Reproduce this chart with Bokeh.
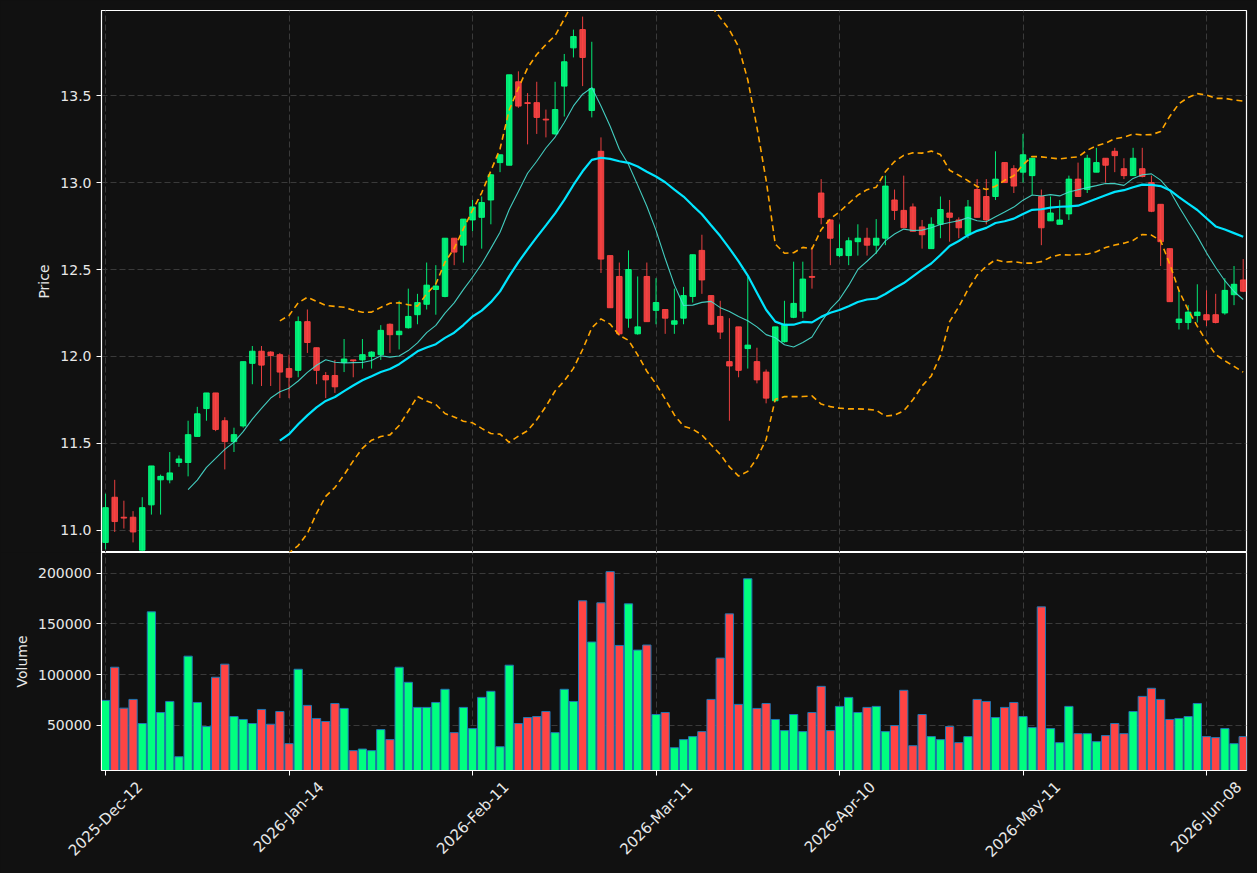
import math
import numpy as np
import pandas as pd
from bokeh.plotting import figure
from bokeh.layouts import column
from bokeh.models import (ColumnDataSource, FixedTicker, Range1d, BasicTickFormatter,
                          PrintfTickFormatter, LinearAxis)
from bokeh.embed import file_html
from bokeh.resources import INLINE

opens = [10.93, 11.19, 11.075, 11.075, 10.885, 11.146, 11.29, 11.29, 11.39, 11.39,
         11.54, 11.70, 11.79, 11.63, 11.51, 11.60, 11.96, 12.03, 12.025, 12.01,
         11.93, 11.92, 12.20, 12.05, 11.89, 11.89, 11.965, 11.98, 11.98, 12.0,
         12.01, 12.185, 12.125, 12.165, 12.24, 12.30, 12.385, 12.345, 12.68, 12.64,
         12.785, 12.80, 12.90, 13.115, 13.10, 13.58, 13.46, 13.46, 13.365, 13.28,
         13.555, 13.775, 13.88, 13.415, 13.18, 12.58, 12.46, 12.22, 12.13, 12.46,
         12.265, 12.27, 12.185, 12.22, 12.345, 12.61, 12.35, 12.23, 11.97, 12.17,
         12.045, 11.97, 11.91, 11.745, 12.085, 12.225, 12.26, 12.46, 12.94, 12.785,
         12.58, 12.58, 12.66, 12.68, 12.64, 12.68, 12.90, 12.84, 12.86, 12.745,
         12.62, 12.76, 12.825, 12.785, 12.70, 12.96, 12.92, 12.92, 13.115, 13.08,
         13.06, 13.04, 12.92, 12.78, 12.76, 12.82, 13.02, 12.96, 13.06, 13.14,
         13.18, 13.08, 13.04, 13.08, 13.0, 12.875, 12.62, 12.195, 12.195, 12.235,
         12.24, 12.24, 12.25, 12.355, 12.44]
highs = [11.21, 11.29, 11.17, 11.11, 11.19, 11.37, 11.32, 11.45, 11.43, 11.63,
         11.71, 11.79, 11.79, 11.65, 11.59, 11.97, 12.06, 12.06, 12.03, 12.02,
         12.01, 12.23, 12.27, 12.05, 11.91, 11.98, 12.10, 11.98, 12.10, 12.03,
         12.18, 12.19, 12.32, 12.39, 12.36, 12.54, 12.525, 12.68, 12.68, 12.79,
         12.90, 12.92, 13.05, 13.16, 13.62, 13.64, 13.515, 13.58, 13.42, 13.58,
         13.74, 13.88, 13.955, 13.81, 13.26, 12.58, 12.54, 12.61, 12.46, 12.54,
         12.45, 12.27, 12.39, 12.40, 12.585, 12.70, 12.35, 12.32, 12.22, 12.17,
         12.46, 12.05, 11.925, 12.17, 12.32, 12.545, 12.545, 12.63, 13.02, 12.785,
         12.76, 12.685, 12.76, 12.74, 12.79, 13.04, 12.96, 13.04, 12.88, 12.785,
         12.80, 12.92, 12.90, 12.80, 12.90, 13.02, 13.02, 13.18, 13.115, 13.10,
         13.28, 13.14, 12.96, 12.92, 12.90, 13.04, 13.115, 13.16, 13.20, 13.14,
         13.20, 13.14, 13.20, 13.20, 13.04, 12.875, 12.62, 12.38, 12.295, 12.415,
         12.38, 12.36, 12.45, 12.52, 12.56]
lows = [10.89, 10.99, 11.01, 10.93, 10.88, 11.09, 11.09, 11.27, 11.365, 11.31,
        11.54, 11.63, 11.57, 11.35, 11.45, 11.59, 11.84, 11.83, 11.83, 11.76,
        11.76, 11.88, 12.02, 11.84, 11.76, 11.79, 11.91, 11.88, 11.93, 11.93,
        11.98, 12.02, 12.04, 12.16, 12.185, 12.27, 12.24, 12.34, 12.525, 12.54,
        12.72, 12.62, 12.76, 13.06, 13.10, 13.43, 13.22, 13.28, 13.26, 13.275,
        13.38, 13.72, 13.555, 13.375, 12.48, 12.28, 12.12, 12.165, 12.125, 12.20,
        12.185, 12.13, 12.13, 12.185, 12.31, 12.36, 12.18, 12.10, 11.63, 11.88,
        11.93, 11.845, 11.73, 11.74, 12.08, 12.22, 12.22, 12.39, 12.76, 12.525,
        12.57, 12.525, 12.58, 12.58, 12.59, 12.64, 12.785, 12.74, 12.72, 12.62,
        12.62, 12.68, 12.66, 12.68, 12.68, 12.80, 12.76, 12.90, 13.0, 12.94,
        13.0, 12.93, 12.64, 12.78, 12.76, 12.785, 12.92, 12.94, 13.06, 13.0,
        13.06, 13.02, 13.04, 13.03, 12.83, 12.52, 12.315, 12.155, 12.155, 12.195,
        12.175, 12.19, 12.24, 12.295, 12.37]
closes = [11.13, 11.05, 11.07, 10.99, 11.13, 11.37, 11.31, 11.33, 11.41, 11.55,
          11.67, 11.79, 11.58, 11.51, 11.55, 11.97, 12.03, 11.95, 12.005, 11.91,
          11.88, 12.20, 12.08, 11.92, 11.865, 11.825, 11.985, 11.975, 12.01, 12.025,
          12.15, 12.125, 12.145, 12.23, 12.31, 12.41, 12.405, 12.68, 12.60, 12.79,
          12.86, 12.885, 13.045, 13.16, 13.62, 13.44, 13.455, 13.375, 13.36, 13.42,
          13.695, 13.84, 13.72, 13.54, 12.56, 12.28, 12.13, 12.50, 12.17, 12.20,
          12.31, 12.22, 12.205, 12.35, 12.585, 12.44, 12.185, 12.14, 11.945, 11.92,
          12.065, 11.865, 11.76, 12.17, 12.185, 12.305, 12.445, 12.455, 12.80, 12.68,
          12.62, 12.665, 12.68, 12.64, 12.68, 12.98, 12.84, 12.74, 12.72, 12.70,
          12.76, 12.845, 12.80, 12.74, 12.86, 12.80, 12.785, 13.02, 13.0, 12.98,
          13.16, 13.14, 12.74, 12.825, 12.785, 13.02, 12.92, 13.14, 13.115, 13.10,
          13.155, 13.04, 13.14, 13.035, 12.835, 12.66, 12.315, 12.215, 12.255, 12.255,
          12.21, 12.195, 12.38, 12.415, 12.375]
volumes = [74500, 107300, 66900, 75500, 51700, 162000, 62600, 73500, 18900, 118200,
           72500, 48700, 97400, 110300, 58600, 55700, 51700, 65600, 51000, 63600,
           31800, 105300, 69600, 56700, 53700, 71500, 66600, 24900, 26500, 24900,
           45700, 35800, 107300, 92400, 67600, 67600, 72500, 85500, 42700, 67600,
           46700, 77500, 83500, 28800, 109300, 51700, 57600, 58600, 63600, 42700,
           85500, 73500, 172900, 132200, 170900, 201700, 128800, 169900, 124200, 129200,
           60600, 62600, 27800, 35800, 38800, 43700, 75500, 116300, 160000, 70600,
           194700, 66600, 71500, 55700, 44700, 60600, 43700, 62600, 88400, 44700,
           68600, 77500, 62600, 67600, 68600, 43700, 49700, 84500, 29800, 60600,
           38800, 35800, 48700, 32800, 38800, 75500, 73500, 57600, 67600, 72500,
           58600, 47700, 166900, 46700, 32800, 68600, 41700, 41700, 33800, 39800,
           51700, 41700, 63600, 78500, 86500, 75500, 55700, 56700, 58600, 71500,
           38800, 37800, 46700, 31800, 38800]
tick_positions = [0, 20, 40, 60, 80, 100, 120]
tick_labels = ["2025-Dec-12", "2026-Jan-14", "2026-Feb-11", "2026-Mar-11",
               "2026-Apr-10", "2026-May-11", "2026-Jun-08"]
price_ticks = [11.0, 11.5, 12.0, 12.5, 13.0, 13.5]
volume_ticks = [50000, 100000, 150000, 200000]

BG = "#111111"
GREEN = "#00ff7f"
RED = "#ff4444"
TXT = "#e8e8e8"
GRID = "#3a3a3a"
FONT = "DejaVu Sans"

n = len(closes)
idx = np.arange(n)
cs = pd.Series(closes)
ma10 = cs.rolling(10).mean()
ma20 = cs.rolling(20).mean()
sd20 = cs.rolling(20).std()
upper = ma20 + 2 * sd20
lower = ma20 - 2 * sd20

colors = [GREEN if c >= o else RED for o, c in zip(opens, closes)]
src = ColumnDataSource(dict(
    x=idx, o=opens, h=highs, l=lows, c=closes, v=volumes,
    top=[max(o, c) for o, c in zip(opens, closes)],
    bot=[min(o, c) for o, c in zip(opens, closes)],
    col=colors,
))
lsrc = ColumnDataSource(dict(x=idx, ma10=ma10.values, ma20=ma20.values,
                             up=upper.values, lo=lower.values))

X0, X1 = -0.44, 124.36
xr = Range1d(X0, X1)


def style_axis(ax):
    ax.axis_line_color = "white"
    ax.major_tick_line_color = "white"
    ax.minor_tick_line_color = None
    ax.major_tick_out = 5
    ax.major_tick_in = 0
    ax.major_label_text_color = TXT
    ax.major_label_text_font = FONT
    ax.major_label_text_font_size = "14px"
    ax.axis_label_text_color = TXT
    ax.axis_label_text_font = FONT
    ax.axis_label_text_font_size = "14px"
    ax.axis_label_text_font_style = "normal"


def style(fig):
    fig.background_fill_color = BG
    fig.border_fill_color = BG
    fig.outline_line_color = "white"
    fig.outline_line_width = 1.2
    for ax in fig.axis:
        style_axis(ax)
    for g in fig.grid:
        g.grid_line_color = GRID
        g.grid_line_dash = "6 3"
        g.grid_line_width = 1


p = figure(width=1257, height=552, x_range=xr, y_range=Range1d(10.872, 13.99),
           output_backend="svg", toolbar_location=None,
           min_border_left=101, min_border_right=11, min_border_top=10, min_border_bottom=0)
p.segment(x0="x", y0="l", x1="x", y1="h", source=src, line_color="col", line_alpha=0.9, line_width=1)
p.vbar(x="x", top="top", bottom="bot", width=0.6, source=src, fill_color="col", fill_alpha=0.9,
       line_color="col", line_alpha=0.9, line_width=1)
p.line("x", "ma10", source=lsrc, line_color="#48e0d2", line_alpha=0.9, line_width=1.1)
p.line("x", "ma20", source=lsrc, line_color="#00e5ff", line_width=2.2)
p.line("x", "up", source=lsrc, line_color="#ffa500", line_width=1.6, line_dash="6 4")
p.line("x", "lo", source=lsrc, line_color="#ffa500", line_width=1.6, line_dash="6 4")
p.xaxis.visible = False
p.yaxis.axis_label = "Price"
p.yaxis.ticker = FixedTicker(ticks=price_ticks)
p.yaxis.formatter = PrintfTickFormatter(format="%.1f")
style(p)
p.xgrid.ticker = FixedTicker(ticks=tick_positions)
p.ygrid.ticker = FixedTicker(ticks=price_ticks)

vy0, vy1 = 5300, 220600
v = figure(width=1257, height=321, x_range=xr, y_range=Range1d(vy0, vy1),
           output_backend="svg", toolbar_location=None,
           min_border_left=101, min_border_right=11, min_border_top=0, min_border_bottom=103)
v.vbar(x="x", top="v", bottom=0, width=0.9, source=src, fill_color="col",
       line_color="#1f77b4", line_width=1)
v.yaxis.axis_label = "Volume"
v.yaxis.ticker = FixedTicker(ticks=volume_ticks)
v.yaxis.formatter = BasicTickFormatter(use_scientific=False)
v.xaxis.ticker = FixedTicker(ticks=tick_positions)
v.xaxis.major_label_overrides = {t: "" for t in tick_positions}
v.xaxis.major_label_standoff = 0
style(v)
v.xgrid.ticker = FixedTicker(ticks=tick_positions)
v.ygrid.ticker = FixedTicker(ticks=volume_ticks)

# second (label-only) axis: date labels centred on their ticks, like the reference
LABEL_PX = 15
char_w = {"0": .636, "1": .636, "2": .636, "3": .636, "4": .636, "5": .636, "6": .636,
          "7": .636, "8": .636, "9": .636, "-": .361, "D": .770, "e": .615, "c": .550,
          "J": .295, "a": .613, "n": .634, "F": .575, "b": .635, "M": .863, "r": .411,
          "A": .684, "p": .635, "y": .592, "u": .634}
px_per_x = 1145.0 / (X1 - X0)
label_pos = []
for t, lab in zip(tick_positions, tick_labels):
    w = sum(char_w.get(ch, 0.6) for ch in lab) * LABEL_PX
    label_pos.append(round(t + (w * 0.7071 / 2) / px_per_x, 3))
lab_axis = LinearAxis(ticker=FixedTicker(ticks=label_pos),
                      major_label_overrides={pos: lab for pos, lab in zip(label_pos, tick_labels)})
style_axis(lab_axis)
lab_axis.major_label_text_font_size = f"{LABEL_PX}px"
lab_axis.axis_line_color = None
lab_axis.major_tick_line_color = None
lab_axis.major_tick_out = 0
lab_axis.major_label_standoff = 9
lab_axis.major_label_orientation = math.pi / 4
v.add_layout(lab_axis, "below")

layout = column(p, v, spacing=0, styles={"background-color": BG})
html = file_html(layout, INLINE)
html = html.replace("<body>", '<body style="margin:0;background:#111111;">')
open("out.html", "w").write(html)
